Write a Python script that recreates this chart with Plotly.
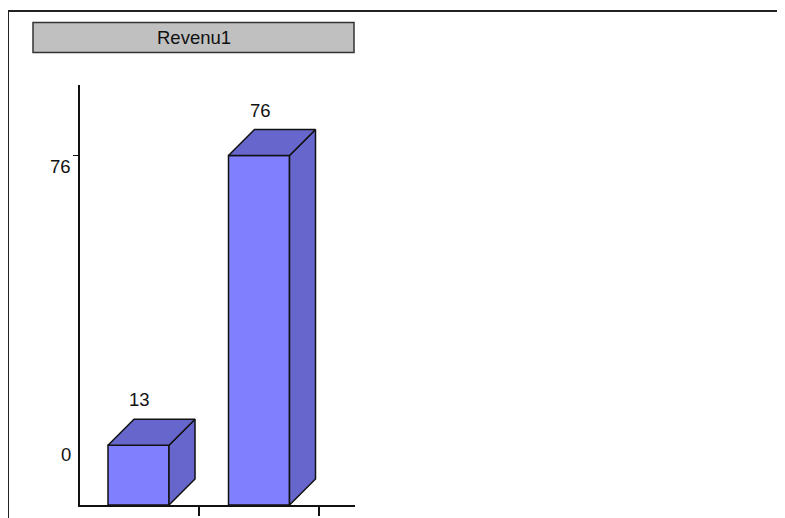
import plotly.graph_objects as go

# ---- data ----
categories = ["A", "B"]
values = [13, 76]
value_labels = ["13", "76"]
y_tick_values = [0, 76]
y_tick_labels = ["0", "76"]
title_text = "Revenu1"

# ---- layout constants (page pixels) ----
PAGE_OFF = 8            # default body margin of the html page
W, H = 785 - PAGE_OFF, 518 - PAGE_OFF


def fx(p):
    return (p - PAGE_OFF) / W


def fy(p):
    return 1 - (p - PAGE_OFF) / H


PLOT_L, PLOT_R = 80, 355
PLOT_T, PLOT_B = 85, 505
PX_PER_UNIT_Y = (505 - 155.5) / 76.0
PX_PER_CAT = 120.5
CAT0_PX = 138.5
BAR_W_PX = 61
DEPTH_PX = 26

FRONT = "#8080ff"
SIDE = "#6666cc"
EDGE = "#111111"
FONT = "Liberation Sans, Arial, sans-serif"
FS = 18.5

ymax = (PLOT_B - PLOT_T) / PX_PER_UNIT_Y
xmin = (PLOT_L - CAT0_PX) / PX_PER_CAT
xmax = (PLOT_R - CAT0_PX) / PX_PER_CAT
dx = DEPTH_PX / PX_PER_CAT
dy = DEPTH_PX / PX_PER_UNIT_Y
bw = BAR_W_PX / PX_PER_CAT

xs = list(range(len(categories)))

fig = go.Figure()

# 3D side and top faces
for i, v in zip(xs, values):
    l, r = i - bw / 2, i + bw / 2
    fig.add_trace(go.Scatter(
        x=[r, r + dx, r + dx, r, r], y=[0, dy, v + dy, v, 0],
        fill="toself", fillcolor=SIDE, mode="lines",
        line=dict(color=EDGE, width=1.5), hoverinfo="skip", showlegend=False))
    fig.add_trace(go.Scatter(
        x=[l, l + dx, r + dx, r, l], y=[v, v + dy, v + dy, v, v],
        fill="toself", fillcolor=SIDE, mode="lines",
        line=dict(color=EDGE, width=1.5), hoverinfo="skip", showlegend=False))

# front faces
fig.add_trace(go.Bar(
    x=xs, y=values, width=bw,
    marker=dict(color=FRONT, line=dict(color=EDGE, width=1.5)),
    showlegend=False, hoverinfo="skip"))

# value labels
annotations = []
for i, v, t in zip(xs, values, value_labels):
    annotations.append(dict(
        x=i, y=v, xref="x", yref="y", text=t, showarrow=False,
        xanchor="center", yanchor="middle", xshift=1, yshift=DEPTH_PX + 19.5,
        font=dict(family=FONT, size=FS, color="#111111")))

# y tick labels (drawn as text, offset like the reference)
label_shift = {0: 51, 76: -10.5}
for v, t in zip(y_tick_values, y_tick_labels):
    annotations.append(dict(
        x=fx(73), y=v, xref="paper", yref="y", text=t, showarrow=False,
        xanchor="right", yanchor="middle", yshift=label_shift.get(v, 0),
        font=dict(family=FONT, size=FS, color="#111111")))

# title text
annotations.append(dict(
    x=fx(193.5), y=fy(37.5), xref="paper", yref="paper", text=title_text,
    showarrow=False, xanchor="center", yanchor="middle",
    font=dict(family=FONT, size=FS, color="#111111")))

shapes = [
    # outer frame
    dict(type="rect", xref="paper", yref="paper",
         x0=fx(8), x1=fx(830), y0=fy(560), y1=fy(11),
         line=dict(color="#222222", width=2), fillcolor="rgba(0,0,0,0)", layer="below"),
    # title box
    dict(type="rect", xref="paper", yref="paper",
         x0=fx(33), x1=fx(354), y0=fy(52.5), y1=fy(22.5),
         line=dict(color="#333333", width=1.5), fillcolor="#c0c0c0", layer="below"),
]

fig.update_layout(
    width=W, height=H, autosize=False,
    margin=dict(l=0, r=0, t=0, b=0),
    paper_bgcolor="white", plot_bgcolor="rgba(0,0,0,0)",
    showlegend=False,
    annotations=annotations, shapes=shapes,
    xaxis=dict(
        domain=[fx(PLOT_L), fx(PLOT_R)], range=[xmin, xmax],
        showgrid=False, zeroline=False, showline=True, linecolor=EDGE, linewidth=1.5,
        tickmode="array", tickvals=[0.5, 1.5], ticks="outside", ticklen=9,
        tickcolor=EDGE, tickwidth=1.5, showticklabels=False, fixedrange=True),
    yaxis=dict(
        domain=[fy(PLOT_B), fy(PLOT_T)], range=[0, ymax],
        showgrid=False, zeroline=False, showline=True, linecolor=EDGE, linewidth=1.5,
        tickmode="array", tickvals=[76], ticks="outside", ticklen=5,
        tickcolor=EDGE, tickwidth=1, showticklabels=False, fixedrange=True),
)

fig.write_html("out.html", config={"displayModeBar": False})
